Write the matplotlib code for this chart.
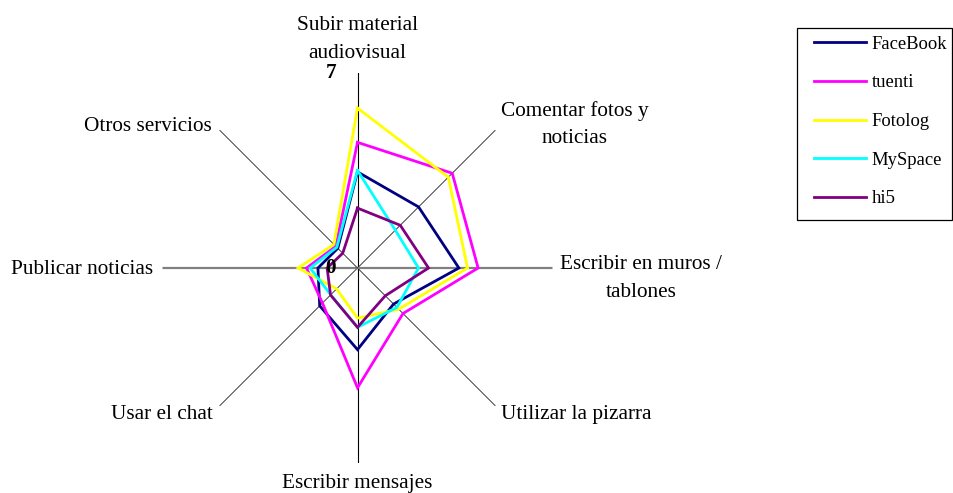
import numpy as np
import matplotlib
matplotlib.use("Agg")
import matplotlib.pyplot as plt
from matplotlib.patches import Rectangle

# ---- data ----
categories = ["Subir material\naudiovisual", "Comentar fotos y\nnoticias",
              "Escribir en muros /\ntablones", "Utilizar la pizarra",
              "Escribir mensajes", "Usar el chat", "Publicar noticias",
              "Otros servicios"]
series_names = ["FaceBook", "tuenti", "Fotolog", "MySpace", "hi5"]
facebook = [3.45, 3.1, 3.64, 1.83, 2.93, 1.92, 1.42, 1.0]
tuenti   = [4.51, 4.81, 4.33, 2.31, 4.3, 1.78, 1.83, 1.1]
fotolog  = [5.74, 4.61, 3.95, 2.09, 1.8, 1.06, 2.13, 1.2]
myspace  = [3.5, 1.92, 2.19, 2.0, 2.13, 1.36, 1.7, 1.05]
hi5      = [2.15, 2.17, 2.55, 1.41, 2.13, 1.37, 1.09, 0.75]
series_values = [facebook, tuenti, fotolog, myspace, hi5]
series_colors = ["#000080", "#FF00FF", "#FFFF00", "#00FFFF", "#800080"]
r_max = 7
r_labels = ["0", "7"]

FONT = "Liberation Serif"
W, H = 954, 493
fig = plt.figure(figsize=(W / 100, H / 100), dpi=100)

cx, cy, R = 357.5, 268.0, 195.0
ax = fig.add_axes([(cx - R) / W, (H - cy - R) / H, 2 * R / W, 2 * R / H],
                  projection="polar")
ax.set_theta_zero_location("N")
ax.set_theta_direction(-1)
ax.set_ylim(0, r_max)
ax.grid(False)
ax.set_xticks([])
ax.set_yticks([])
ax.spines["polar"].set_visible(False)
ax.patch.set_alpha(0)

n = len(categories)
thetas = np.arange(n) * 2 * np.pi / n

# spokes
for i, t in enumerate(thetas):
    if i in (2, 6):
        ax.plot([t, t], [0, r_max], color="#808080", lw=1.6, zorder=1)
    elif i in (0, 4):
        ax.plot([t, t], [0, r_max], color="black", lw=0.8, zorder=1)
    else:
        ax.plot([t, t], [0, r_max], color="#202020", lw=0.6, zorder=1)

# series
handles = []
for name, vals, col in zip(series_names, series_values, series_colors):
    th = np.append(thetas, thetas[0])
    v = np.append(vals, vals[0])
    h, = ax.plot(th, v, color=col, lw=2.0, label=name, zorder=3,
                 solid_joinstyle="miter")
    handles.append(h)

# category labels: (dx, dy) in pixels from spoke end (last-line baseline), ha
label_pos = [
    ((0, 15), "center"),
    ((79.5, -13.3), "center"),
    ((88.8, -28.7), "center"),
    ((6, -13.3), "left"),
    ((0, -25), "center"),
    ((-7, -13), "right"),
    ((-9.5, -6.3), "right"),
    ((-7.7, -1), "right"),
]
for t, lab, (off, ha) in zip(thetas, categories, label_pos):
    ax.annotate(lab, xy=(t, r_max), xytext=off, textcoords="offset pixels",
                ha=ha, va="baseline", fontsize=15.3, family=FONT,
                linespacing=1.62, multialignment="center",
                annotation_clip=False)

# radial value labels
for val, lab in zip([0, r_max], r_labels):
    ax.annotate(lab, xy=(0, val), xytext=(-26.5, 0), textcoords="offset pixels",
                ha="center", va="center", fontsize=15.3, family=FONT,
                fontweight="bold", annotation_clip=False, zorder=4)

# legend
leg = fig.legend(handles=handles, loc="upper left",
                 bbox_to_anchor=(814 / W, 1 - 35.8 / H),
                 frameon=False, borderaxespad=0, borderpad=0,
                 handlelength=2.8, handletextpad=0.3, labelspacing=1.16,
                 prop={"family": FONT, "size": 13.4})
fig.add_artist(Rectangle((797 / W, 1 - 220 / H), (952 - 797) / W, (220 - 28) / H,
                         transform=fig.transFigure, fill=False,
                         edgecolor="black", lw=0.9))

fig.savefig("out.png", dpi=100)
